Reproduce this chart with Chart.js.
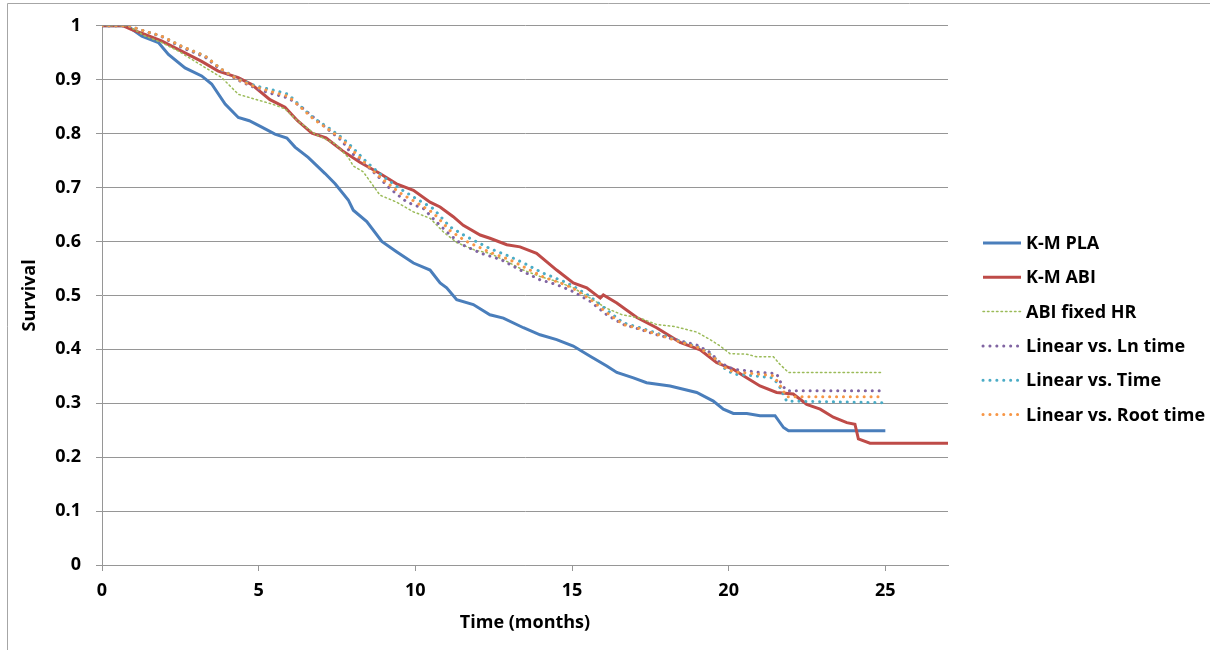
<!DOCTYPE html>
<html>
<head>
<meta charset="utf-8">
<script src="https://cdn.jsdelivr.net/npm/chart.js@4.4.0/dist/chart.umd.min.js"></script>
<style>
    html, body { margin: 0; padding: 0; background: #ffffff; }
    #wrap { width: 1210px; height: 650px; position: relative; }
</style>
</head>
<body>
<div id="wrap"><canvas id="survivalChart"></canvas></div>
<script>
'use strict';

// 시리즈 데이터 (시간, 생존율)
const plaTime = [0, 0.8, 1.27, 1.8, 2.12, 2.65, 3.18, 3.5, 3.93, 4.35, 4.7, 5.1, 5.52, 5.9, 6.16, 6.58, 7.12, 7.44, 7.86, 8.02, 8.45, 8.93, 9.4, 9.94, 10.47, 10.79, 11.0, 11.32, 11.85, 12.38, 12.81, 13.45, 13.98, 14.51, 15.04, 15.58, 16.11, 16.43, 16.96, 17.38, 18.13, 18.98, 19.51, 19.83, 20.15, 20.58, 21.0, 21.48, 21.75, 21.91, 25.0];
const plaSurv = [1, 1, 0.981, 0.969, 0.947, 0.922, 0.907, 0.892, 0.855, 0.830, 0.824, 0.812, 0.799, 0.792, 0.775, 0.756, 0.726, 0.707, 0.677, 0.658, 0.637, 0.600, 0.581, 0.560, 0.547, 0.523, 0.514, 0.492, 0.483, 0.464, 0.458, 0.440, 0.427, 0.418, 0.406, 0.387, 0.369, 0.357, 0.347, 0.338, 0.332, 0.320, 0.304, 0.289, 0.281, 0.281, 0.277, 0.277, 0.255, 0.249, 0.249];

const abiTime = [0, 0.68, 0.95, 1.37, 1.9, 2.54, 3.18, 3.71, 4.35, 4.78, 5.36, 5.84, 6.24, 6.7, 7.15, 7.68, 8.23, 8.87, 9.4, 9.94, 10.47, 10.79, 11.21, 11.53, 12.07, 12.38, 12.92, 13.34, 13.87, 14.51, 15.04, 15.47, 15.9, 16.0, 16.43, 17.07, 17.7, 18.45, 19.09, 19.62, 20.15, 20.47, 21.0, 21.53, 22.06, 22.49, 22.92, 23.34, 23.77, 24.03, 24.14, 24.51, 27];
const abiSurv = [1, 1, 0.993, 0.984, 0.972, 0.953, 0.934, 0.916, 0.904, 0.891, 0.863, 0.849, 0.824, 0.801, 0.792, 0.768, 0.747, 0.726, 0.707, 0.695, 0.673, 0.664, 0.646, 0.630, 0.612, 0.606, 0.594, 0.590, 0.578, 0.547, 0.523, 0.514, 0.495, 0.501, 0.486, 0.459, 0.440, 0.413, 0.399, 0.375, 0.363, 0.351, 0.332, 0.320, 0.317, 0.298, 0.289, 0.274, 0.264, 0.261, 0.234, 0.226, 0.226];

const fixedTime = [0, 0.84, 1.37, 1.9, 2.44, 2.97, 3.39, 3.82, 4.35, 4.88, 5.42, 5.84, 6.24, 6.8, 7.44, 7.86, 8.02, 8.34, 8.87, 9.4, 9.94, 10.47, 10.89, 11.32, 11.9, 12.38, 12.92, 13.45, 13.98, 14.51, 15.04, 15.58, 16.11, 16.6, 17.17, 17.7, 18.3, 18.98, 19.41, 19.73, 20.04, 20.58, 20.9, 21.43, 21.64, 21.91, 24.94];
const fixedSurv = [1, 1, 0.981, 0.969, 0.953, 0.934, 0.919, 0.904, 0.873, 0.864, 0.855, 0.846, 0.824, 0.799, 0.781, 0.756, 0.740, 0.729, 0.686, 0.673, 0.655, 0.643, 0.618, 0.598, 0.584, 0.578, 0.563, 0.547, 0.535, 0.526, 0.514, 0.495, 0.476, 0.464, 0.458, 0.446, 0.442, 0.432, 0.418, 0.406, 0.392, 0.391, 0.386, 0.386, 0.372, 0.357, 0.357];

const lnTime = [0, 0.84, 1.37, 1.9, 2.54, 3.29, 3.82, 4.35, 4.88, 5.3, 5.95, 6.37, 6.8, 7.25, 7.65, 7.92, 8.34, 8.77, 9.19, 9.73, 10.26, 10.68, 11.11, 11.5, 12.1, 12.75, 13.45, 13.98, 14.51, 15.04, 15.58, 16.11, 16.64, 17.17, 17.7, 18.3, 18.98, 19.41, 19.73, 20.15, 20.47, 21.0, 21.53, 21.69, 21.85, 24.94];
const lnSurv = [1, 1, 0.990, 0.980, 0.960, 0.942, 0.917, 0.899, 0.885, 0.876, 0.866, 0.849, 0.828, 0.806, 0.787, 0.766, 0.747, 0.723, 0.698, 0.673, 0.661, 0.636, 0.612, 0.594, 0.578, 0.566, 0.544, 0.529, 0.520, 0.507, 0.489, 0.464, 0.446, 0.437, 0.427, 0.418, 0.408, 0.394, 0.375, 0.363, 0.361, 0.357, 0.355, 0.335, 0.323, 0.323];

const linTime = [0, 0.84, 1.37, 1.9, 2.54, 3.29, 3.82, 4.35, 4.88, 5.52, 5.95, 6.3, 6.75, 7.25, 7.65, 7.95, 8.45, 8.98, 9.51, 10.04, 10.57, 11.11, 11.6, 12.38, 13.02, 13.56, 14.09, 14.73, 15.04, 15.58, 16.11, 16.64, 17.17, 18.02, 18.45, 19.09, 19.51, 19.83, 20.15, 20.79, 21.43, 21.64, 21.85, 24.94];
const linSurv = [1, 1, 0.990, 0.981, 0.962, 0.944, 0.919, 0.901, 0.889, 0.880, 0.873, 0.853, 0.829, 0.810, 0.793, 0.777, 0.747, 0.720, 0.698, 0.679, 0.661, 0.627, 0.610, 0.587, 0.572, 0.557, 0.541, 0.526, 0.517, 0.498, 0.473, 0.449, 0.440, 0.424, 0.415, 0.403, 0.387, 0.366, 0.354, 0.351, 0.347, 0.329, 0.304, 0.301];

const rootTime = [0, 0.84, 1.37, 1.9, 2.54, 3.29, 3.82, 4.35, 4.88, 5.52, 5.95, 6.3, 6.75, 7.25, 7.65, 7.95, 8.45, 8.98, 9.51, 10.04, 10.57, 11.11, 11.6, 12.38, 13.02, 13.56, 14.09, 14.73, 15.04, 15.58, 16.11, 16.64, 17.17, 18.02, 18.45, 19.09, 19.51, 19.83, 20.15, 20.79, 21.43, 21.64, 21.85, 24.94];
const rootSurv = [1, 1, 0.990, 0.981, 0.962, 0.944, 0.919, 0.900, 0.887, 0.876, 0.869, 0.851, 0.827, 0.807, 0.790, 0.772, 0.742, 0.714, 0.690, 0.672, 0.653, 0.620, 0.601, 0.580, 0.566, 0.550, 0.534, 0.521, 0.513, 0.493, 0.468, 0.446, 0.438, 0.422, 0.414, 0.402, 0.386, 0.368, 0.358, 0.355, 0.351, 0.333, 0.312, 0.312];

const seriesNames = ['K-M PLA', 'K-M ABI', 'ABI fixed HR', 'Linear vs. Ln time', 'Linear vs. Time', 'Linear vs. Root time'];
const xTicks = [0, 5, 10, 15, 20, 25];

const colors = {
    pla: '#4A7EBB',
    abi: '#BE4B48',
    fixed: '#9BBB59',
    ln: '#8064A2',
    lin: '#4BACC6',
    root: '#F79646',
    grid: '#969696',
    frame: '#a6a6a6'
};

const FONT = { family: "'Open Sans'", size: 18, weight: 'bold' };

function toPoints(xs, ys) {
    return xs.map((x, i) => ({ x: x, y: ys[i] }));
}

function solidSet(label, xs, ys, color, order) {
    return {
        label: label,
        data: toPoints(xs, ys),
        borderColor: color,
        borderWidth: 3,
        pointRadius: 0,
        tension: 0,
        order: order
    };
}

function dotSet(label, xs, ys, color, order, width, dash) {
    return {
        label: label,
        data: toPoints(xs, ys),
        borderColor: color,
        borderWidth: width,
        borderDash: dash,
        borderCapStyle: 'round',
        pointRadius: 0,
        tension: 0,
        order: order
    };
}

// 배경 + 외곽 테두리
const framePlugin = {
    id: 'frame',
    beforeDraw(chart) {
        const ctx = chart.ctx;
        ctx.save();
        ctx.fillStyle = '#ffffff';
        ctx.fillRect(0, 0, chart.width, chart.height);
        ctx.strokeStyle = colors.frame;
        ctx.lineWidth = 1;
        ctx.beginPath();
        ctx.moveTo(7.5, chart.height);
        ctx.lineTo(7.5, 3.5);
        ctx.lineTo(chart.width, 3.5);
        ctx.stroke();
        ctx.restore();
    }
};

// 범례 직접 그리기
const legendPlugin = {
    id: 'sideLegend',
    afterDraw(chart) {
        const ctx = chart.ctx;
        ctx.save();
        ctx.font = `${FONT.weight} ${FONT.size}px ${FONT.family}`;
        ctx.textBaseline = 'middle';
        ctx.fillStyle = '#000000';
        chart.data.datasets.forEach((ds, i) => {
            const y = 243 + i * 34.3;
            ctx.strokeStyle = ds.borderColor;
            ctx.lineWidth = ds.borderWidth;
            ctx.lineCap = ds.borderDash ? 'round' : 'butt';
            ctx.setLineDash(ds.borderDash || []);
            ctx.beginPath();
            ctx.moveTo(983, y);
            ctx.lineTo(1021, y);
            ctx.stroke();
            ctx.setLineDash([]);
            ctx.fillText(ds.label, 1026, y + 1);
        });
        ctx.restore();
    }
};

document.addEventListener('DOMContentLoaded', () => {
    const canvas = document.getElementById('survivalChart');
    canvas.width = 1210;
    canvas.height = 650;

    new Chart(canvas, {
        type: 'line',
        data: {
            datasets: [
                solidSet(seriesNames[0], plaTime, plaSurv, colors.pla, 6),
                solidSet(seriesNames[1], abiTime, abiSurv, colors.abi, 5),
                dotSet(seriesNames[2], fixedTime, fixedSurv, colors.fixed, 4, 1.5, [1.5, 3]),
                dotSet(seriesNames[3], lnTime, lnSurv, colors.ln, 3, 3, [0.1, 6.8]),
                dotSet(seriesNames[4], linTime, linSurv, colors.lin, 2, 3, [0.1, 6.8]),
                dotSet(seriesNames[5], rootTime, rootSurv, colors.root, 1, 3, [0.1, 6.8])
            ]
        },
        options: {
            responsive: false,
            animation: false,
            layout: { padding: { top: 23, right: 262, bottom: 0, left: 0 } },
            plugins: {
                legend: { display: false },
                tooltip: { enabled: false }
            },
            scales: {
                x: {
                    type: 'linear',
                    min: 0,
                    max: 27,
                    afterFit: scale => { scale.height = 85; },
                    afterBuildTicks: scale => {
                        scale.ticks = xTicks.map(v => ({ value: v }));
                    },
                    ticks: {
                        color: '#000000',
                        font: FONT,
                        padding: 9,
                        maxRotation: 0
                    },
                    grid: {
                        drawOnChartArea: false,
                        drawTicks: true,
                        tickLength: 6,
                        color: colors.grid
                    },
                    border: { display: true, color: colors.grid },
                    title: {
                        display: true,
                        text: 'Time (months)',
                        color: '#000000',
                        font: FONT,
                        padding: { top: 0, bottom: 16 }
                    }
                },
                y: {
                    min: 0,
                    max: 1,
                    afterFit: scale => { scale.width = 102; },
                    ticks: {
                        stepSize: 0.1,
                        color: '#000000',
                        font: FONT,
                        padding: 15,
                        callback: value => String(Number(value.toFixed(1)))
                    },
                    grid: {
                        color: colors.grid,
                        drawTicks: true,
                        tickLength: 6
                    },
                    border: { display: true, color: colors.grid },
                    title: {
                        display: true,
                        text: 'Survival',
                        color: '#000000',
                        font: FONT,
                        padding: { top: 19, bottom: 0 }
                    }
                }
            }
        },
        plugins: [framePlugin, legendPlugin]
    });
});
</script>
</body>
</html>
